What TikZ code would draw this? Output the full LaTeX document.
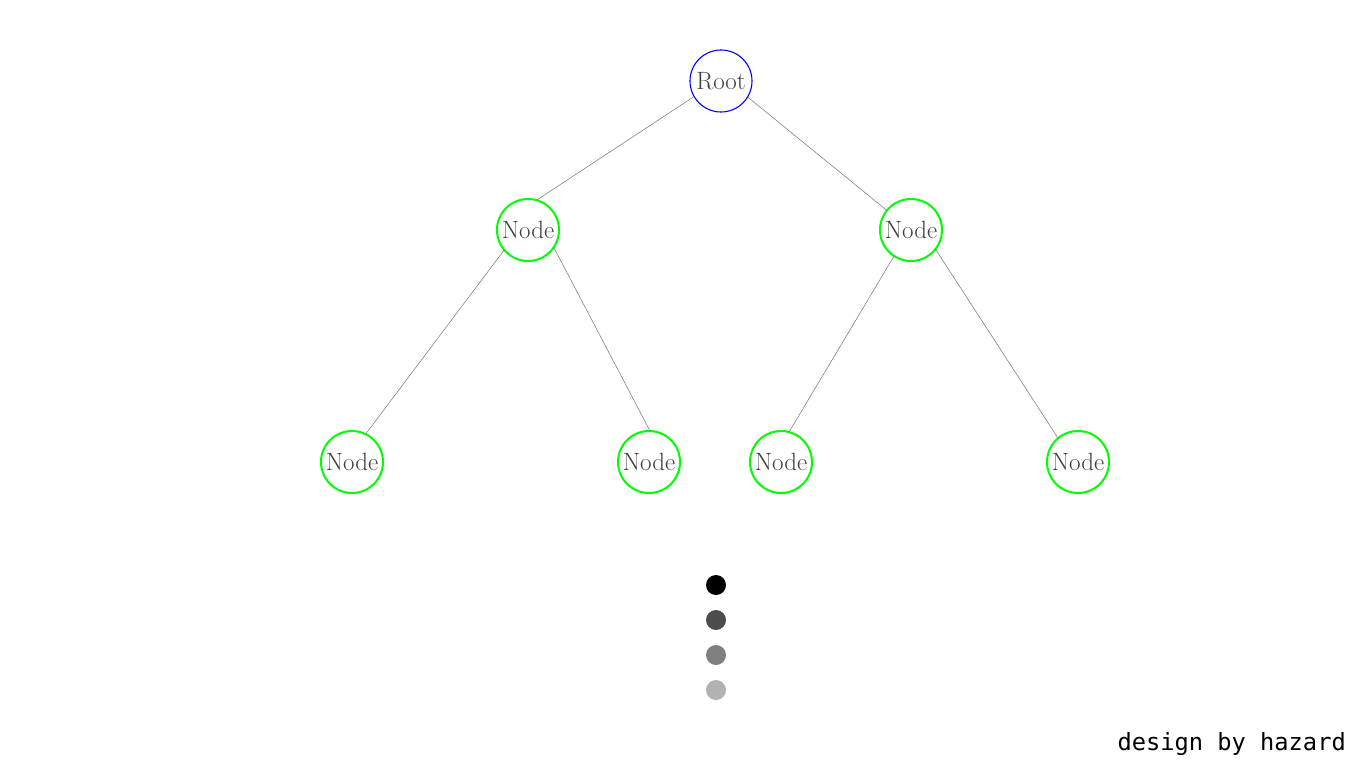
\documentclass[tikz,border=0pt]{standalone}
\usepackage{fontspec}
\newfontfamily\footfont{DejaVu Sans Mono}
\begin{document}
\begin{tikzpicture}[x=1pt,y=-1pt,
  tnode/.style={circle,minimum size=62pt,inner sep=0pt,outer sep=0pt,
    font=\fontsize{25}{29}\selectfont,text=black!75},
  rootnode/.style={tnode,draw=blue,line width=1.1pt},
  childnode/.style={tnode,draw=green,line width=2pt},
  edge/.style={draw=black!55,line width=0.5pt},
  dot/.style={circle,minimum size=20pt,inner sep=0pt,draw=none}]
\useasboundingbox (0,0) rectangle (1366,768);
\fill[white] (0,0) rectangle (1366,768);
\node[rootnode] (root) at (721,81) {Root};
\node[childnode] (l) at (528,230) {Node};
\node[childnode] (r) at (911,230) {Node};
\node[childnode] (ll) at (352,462) {Node};
\node[childnode] (lr) at (649,462) {Node};
\node[childnode] (rl) at (781,462) {Node};
\node[childnode] (rr) at (1078,462) {Node};
\draw[edge] (root.210) -- (l.74);
\draw[edge] (root.-31) -- (r.141);
\draw[edge] (l.220) -- (ll.64);
\draw[edge] (l.-34) -- (lr.88);
\draw[edge] (r.237) -- (rl.75);
\draw[edge] (r.-38) -- (rr.130);
\node[dot,fill=black] (d1) at (716,585) {};
\node[dot,fill=black!70] (d2) at (716,620) {};
\node[dot,fill=black!50] (d3) at (716,655) {};
\node[dot,fill=black!30] (d4) at (716,690) {};
\node[anchor=base east,inner sep=0pt,font=\footfont\fontsize{23.7}{26}\selectfont] (foot) at (1346,750) {design by hazard};
\end{tikzpicture}
\end{document}
